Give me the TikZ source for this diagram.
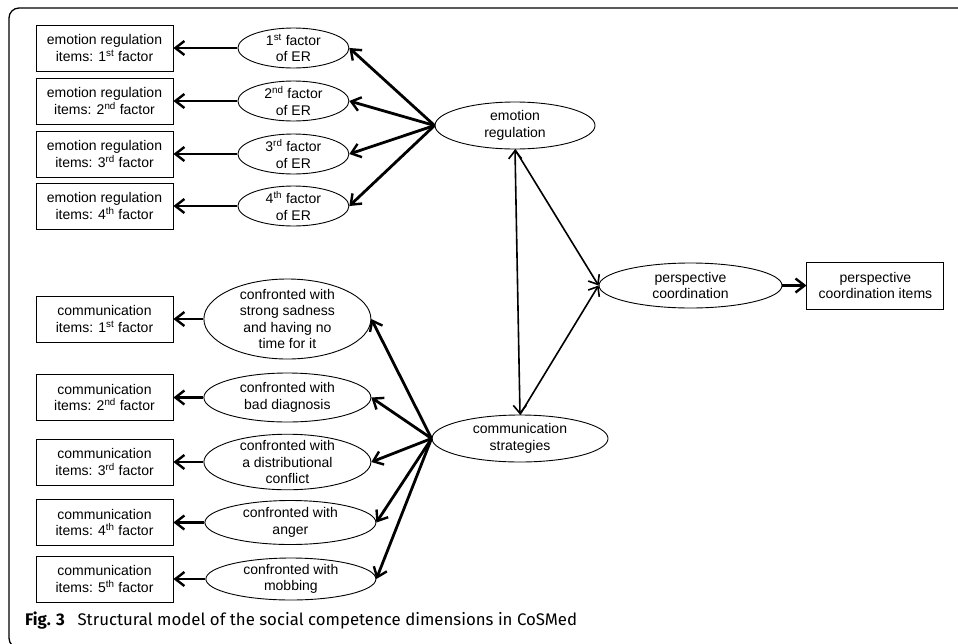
\documentclass[tikz,border=0pt]{standalone}
\usepackage{fontspec}
\setmainfont{Liberation Sans}
\newfontfamily\capfont{Fira Sans}
\usetikzlibrary{arrows.meta,positioning,shapes.geometric}
\tikzset{
  itembox/.style={rectangle, draw, line width=0.9pt, align=center, minimum width=137pt,
                  minimum height=46pt, inner sep=2pt, font=\fontsize{14}{16.5}\selectfont},
  latent/.style={ellipse, draw, line width=0.9pt, align=center, inner xsep=0pt, inner ysep=-2pt,
                 font=\fontsize{14}{16.5}\selectfont},
  load/.style={-{Straight Barb[length=9pt,width=14pt,line width=2.4pt]}, line width=2.8pt},
  corr/.style={line width=1.6pt},
  cbarb/.tip={Straight Barb[length=8pt,width=13pt]},
}
\begin{document}
\begin{tikzpicture}[x=1pt, y=-1pt]
  \useasboundingbox (0,0) rectangle (958,643);
  \draw[line width=1.3pt, rounded corners=10pt] (980,8) -- (9,8) -- (9,648) -- (120,648);

  % emotion regulation
  \node[itembox] (er1) at (104.5,48)  {emotion regulation\\items: 1\textsuperscript{st} factor};
  \node[itembox] (er2) at (104.5,101) {emotion regulation\\items: 2\textsuperscript{nd} factor};
  \node[itembox] (er3) at (104.5,154) {emotion regulation\\items: 3\textsuperscript{rd} factor};
  \node[itembox] (er4) at (104.5,206) {emotion regulation\\items: 4\textsuperscript{th} factor};
  \node[latent, minimum width=111pt, minimum height=40pt, right=64pt of er1] (f1) {1\textsuperscript{st} factor\\of ER};
  \node[latent, minimum width=111pt, minimum height=40pt, right=64pt of er2] (f2) {2\textsuperscript{nd} factor\\of ER};
  \node[latent, minimum width=111pt, minimum height=40pt, right=64pt of er3] (f3) {3\textsuperscript{rd} factor\\of ER};
  \node[latent, minimum width=111pt, minimum height=40pt, right=64pt of er4] (f4) {4\textsuperscript{th} factor\\of ER};
  \node[latent, minimum width=160pt, minimum height=47pt] (er) at (515,125.5) {emotion\\regulation};

  % perspective coordination
  \node[latent, minimum width=183pt, minimum height=45pt] (pc) at (690.5,285.5) {perspective\\coordination};
  \node[itembox, minimum height=47pt, right=24pt of pc] (pci) {perspective\\coordination items};

  % communication
  \node[latent, minimum width=176pt, minimum height=47pt] (cs) at (520,438.5) {communication\\strategies};
  \node[itembox] (cm1) at (104.5,319)   {communication\\items: 1\textsuperscript{st} factor};
  \node[itembox] (cm2) at (104.5,397.5) {communication\\items: 2\textsuperscript{nd} factor};
  \node[itembox] (cm3) at (104.5,462)   {communication\\items: 3\textsuperscript{rd} factor};
  \node[itembox] (cm4) at (104.5,522.5) {communication\\items: 4\textsuperscript{th} factor};
  \node[itembox] (cm5) at (104.5,579)   {communication\\items: 5\textsuperscript{th} factor};
  \node[latent, minimum width=167pt, minimum height=80pt, inner ysep=-4pt, right=30pt of cm1] (c1)
    {confronted with\\strong sadness\\and having no\\time for it};
  \node[latent, minimum width=167pt, minimum height=49pt, right=30pt of cm2] (c2) {confronted with\\bad diagnosis};
  \node[latent, minimum width=167pt, minimum height=51pt, right=30pt of cm3] (c3) {confronted with\\a distributional\\conflict};
  \node[latent, minimum width=171pt, minimum height=44pt, right=31pt of cm4] (c4) {confronted with\\anger};
  \node[latent, minimum width=170pt, minimum height=42pt, right=32pt of cm5] (c5) {confronted with\\mobbing};

  \foreach \i in {1,...,4} {
    \draw[load] (f\i) -- (er\i);
    \draw[load] (er.west) -- (f\i.east);
  }
  \foreach \i in {1,...,5} {
    \draw[load] (c\i) -- (cm\i);
    \draw[load] (cs.west) -- (c\i.east);
  }
  \draw[load] (pc) -- (pci);

  \draw[corr, cbarb-cbarb] (er.south) -- (cs.north);
  \draw[corr, -cbarb] (er.south) -- (pc.west);
  \draw[corr, -cbarb] (cs.north) -- (pc.west);

  \node[anchor=west, inner sep=0pt, font=\capfont\fontsize{16.8}{19}\selectfont] (cap) at (25,621)
    {\textbf{Fig. 3}\hspace{0.75em}Structural model of the social competence dimensions in CoSMed};
\end{tikzpicture}
\end{document}
